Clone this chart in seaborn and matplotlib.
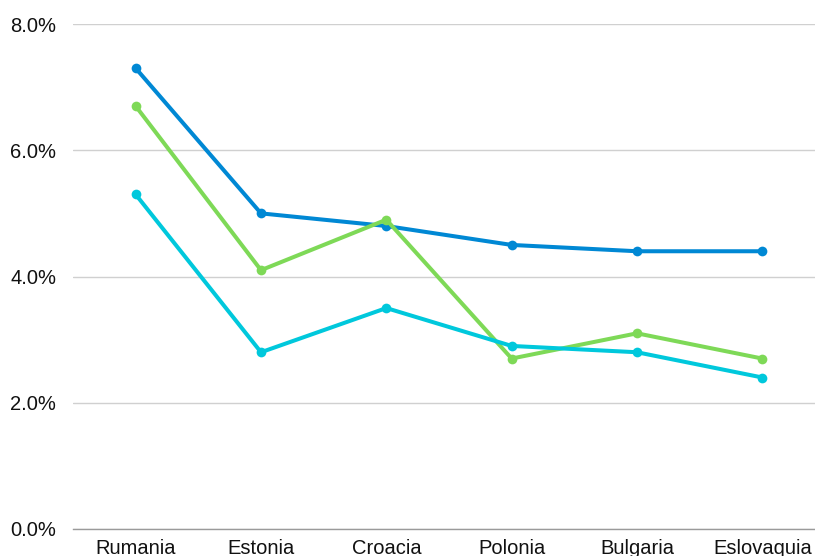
import matplotlib
matplotlib.use("Agg")
import matplotlib.pyplot as plt
import pandas as pd
import seaborn as sns
from matplotlib.ticker import PercentFormatter

# values (percent)
countries = ["Rumania", "Estonia", "Croacia", "Polonia", "Bulgaria", "Eslovaquia"]
serie_azul = [7.3, 5.0, 4.8, 4.5, 4.4, 4.4]
serie_verde = [6.7, 4.1, 4.9, 2.7, 3.1, 2.7]
serie_cian = [5.3, 2.8, 3.5, 2.9, 2.8, 2.4]
series_names = ["Serie 1", "Serie 2", "Serie 3"]
colors = ["#0088D4", "#7ED957", "#00C8DC"]

rows = []
for name, vals in zip(series_names, [serie_azul, serie_verde, serie_cian]):
    for c, v in zip(countries, vals):
        rows.append({"pais": c, "valor": v, "serie": name})
df = pd.DataFrame(rows)

sns.set_theme(style="white")
plt.rcParams["font.family"] = ["Liberation Sans", "DejaVu Sans"]

fig = plt.figure(figsize=(8.15, 5.56), dpi=100)
ax = fig.add_axes([73 / 815, 27 / 556, 752 / 815, 505 / 556])

sns.lineplot(data=df, x="pais", y="valor", hue="serie", palette=colors,
             sort=False, marker="o", markersize=7, markeredgewidth=0,
             linewidth=2.9, legend=False, ax=ax, zorder=3)

ax.set_xlim(-0.5, 5.5)
ax.set_ylim(0, 8)
ax.set_yticks([0, 2, 4, 6, 8])
ax.yaxis.set_major_formatter(PercentFormatter(decimals=1))
ax.grid(axis="y", color="#d0d0d0", linewidth=1)
ax.grid(axis="x", visible=False)
for side in ["top", "right", "left"]:
    ax.spines[side].set_visible(False)
ax.spines["bottom"].set_color("#9a9a9a")
ax.spines["bottom"].set_linewidth(1)
ax.tick_params(axis="y", length=0, pad=12, labelsize=14.5, labelcolor="#111111")
ax.tick_params(axis="x", length=0, pad=7, labelsize=14.5, labelcolor="#111111")
ax.set_xlabel("")
ax.set_ylabel("")

fig.savefig("out.png", dpi=100)
